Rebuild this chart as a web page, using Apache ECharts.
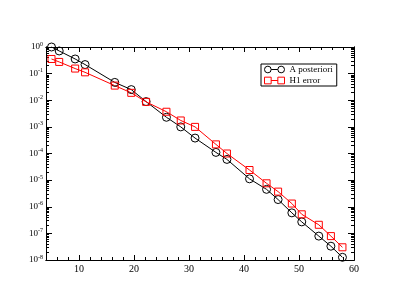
<!DOCTYPE html>
<html>
<head>
<meta charset="utf-8">
<script src="https://cdn.jsdelivr.net/npm/echarts@6/dist/echarts.min.js"></script>
<style>html,body{margin:0;padding:0;background:#fff;}#c{width:399px;height:308px;}</style>
</head>
<body>
<div id="c"></div>
<script>
// ---- data ----
const xValues = [5, 6.4, 9.3, 11.1, 16.5, 19.5, 22.2, 25.9, 28.5, 31.1, 34.9, 36.9, 41, 44.1, 46.2, 48.7, 50.5, 53.6, 55.8, 57.9];
const aPosteriori = [1.0, 0.71, 0.355, 0.219, 0.0468, 0.0251, 8.9e-3, 2.29e-3, 1.0e-3, 3.8e-4, 1.1e-4, 6.0e-5, 1.12e-5, 4.5e-6, 1.86e-6, 5.9e-7, 2.7e-7, 7.9e-8, 3.3e-8, 1.26e-8];
const h1Error = [0.355, 0.275, 0.155, 0.112, 0.0355, 0.019, 8.7e-3, 3.7e-3, 1.74e-3, 1.0e-3, 2.2e-4, 1.0e-4, 2.4e-5, 7.6e-6, 3.7e-6, 1.32e-6, 5.2e-7, 2.1e-7, 7.9e-8, 3.0e-8];
const seriesNames = ['A posteriori', 'H1 error'];
const xMajorTicks = [10, 20, 30, 40, 50, 60];
const xMinorTicks = [6, 8, 12, 14, 16, 18, 22, 24, 26, 28, 32, 34, 36, 38, 42, 44, 46, 48, 52, 54, 56, 58];
const yDecades = [-8, -7, -6, -5, -4, -3, -2, -1, 0];
const yMinorMantissas = [2, 3, 4, 5, 6, 7, 8, 9];

// log-space values for the (log) y axis
const yMinor = [];
yDecades.slice(0, -1).forEach(d => yMinorMantissas.forEach(m => yMinor.push(d + Math.log10(m))));
const toPairs = arr => xValues.map((x, i) => [x, Math.log10(arr[i])]);

const FONT = 'Liberation Serif';
const chart = echarts.init(document.getElementById('c'), null, {renderer: 'canvas'});

const lineStyle = {color: '#000', width: 1};
function xAxis(pos, ticks, len, labels) {
  return {
    type: 'value', position: pos, min: 4, max: 60, gridIndex: 0,
    axisLine: {show: true, lineStyle: lineStyle, onZero: false},
    axisTick: {show: true, inside: true, length: len, customValues: ticks, lineStyle: lineStyle},
    axisLabel: labels ? {show: true, customValues: xMajorTicks, color: '#000', fontFamily: FONT, fontSize: 10, margin: 4} : {show: false},
    splitLine: {show: false}
  };
}
function yAxis(pos, ticks, len, labels) {
  return {
    type: 'value', position: pos, min: -8, max: 0, gridIndex: 0,
    axisLine: {show: true, lineStyle: lineStyle, onZero: false},
    axisTick: {show: true, inside: true, length: len, customValues: ticks, lineStyle: lineStyle},
    axisLabel: labels ? {
      show: true, customValues: yDecades, margin: 3,
      formatter: v => '{b|10}{s|' + Math.round(v) + '}',
      rich: {
        b: {fontFamily: FONT, fontSize: 9, color: '#000'},
        s: {fontFamily: FONT, fontSize: 6, color: '#000', padding: [0, 0, 6, 0]}
      }
    } : {show: false},
    splitLine: {show: false}
  };
}

const circlePairIcon = 'path://M0.5,4A3.5,3.5 0 1,0 7.5,4A3.5,3.5 0 1,0 0.5,4ZM7.5,4L14.5,4M14.5,4A3.5,3.5 0 1,0 21.5,4A3.5,3.5 0 1,0 14.5,4Z';
const rectPairIcon = 'path://M0.5,0.5L7.5,0.5L7.5,7.5L0.5,7.5ZM7.5,4L14.5,4M14.5,0.5L21.5,0.5L21.5,7.5L14.5,7.5Z';

chart.setOption({
  animation: false,
  backgroundColor: '#fff',
  grid: {left: 46, top: 47, right: 45, bottom: 48, containLabel: false},
  xAxis: [
    xAxis('bottom', xMajorTicks, 5, true),
    xAxis('bottom', xMinorTicks, 3, false),
    xAxis('top', xMajorTicks, 5, false),
    xAxis('top', xMinorTicks, 3, false)
  ],
  yAxis: [
    yAxis('left', yDecades, 6, true),
    yAxis('left', yMinor, 3, false),
    yAxis('right', yDecades, 6, false),
    yAxis('right', yMinor, 3, false)
  ],
  legend: {
    left: 261, top: 64, orient: 'vertical',
    backgroundColor: '#fff', borderColor: '#000', borderWidth: 1,
    padding: [1, 4, 1, 3], itemGap: 2, itemWidth: 20, itemHeight: 7,
    itemStyle: {borderWidth: 1},
    textStyle: {fontFamily: FONT, fontSize: 9, color: '#000'},
    data: [{name: seriesNames[0], icon: circlePairIcon}, {name: seriesNames[1], icon: rectPairIcon}]
  },
  series: [
    {
      name: seriesNames[0], type: 'line', xAxisIndex: 0, yAxisIndex: 0,
      data: toPairs(aPosteriori), clip: false,
      symbol: 'circle', symbolSize: 8,
      lineStyle: {color: '#000', width: 1},
      itemStyle: {color: 'rgba(255,255,255,0)', borderColor: '#000', borderWidth: 1}
    },
    {
      name: seriesNames[1], type: 'line', xAxisIndex: 0, yAxisIndex: 0,
      data: toPairs(h1Error), clip: false,
      symbol: 'rect', symbolSize: 7,
      lineStyle: {color: '#ff0000', width: 1},
      itemStyle: {color: 'rgba(255,255,255,0)', borderColor: '#ff0000', borderWidth: 1}
    }
  ]
});
</script>
</body>
</html>
